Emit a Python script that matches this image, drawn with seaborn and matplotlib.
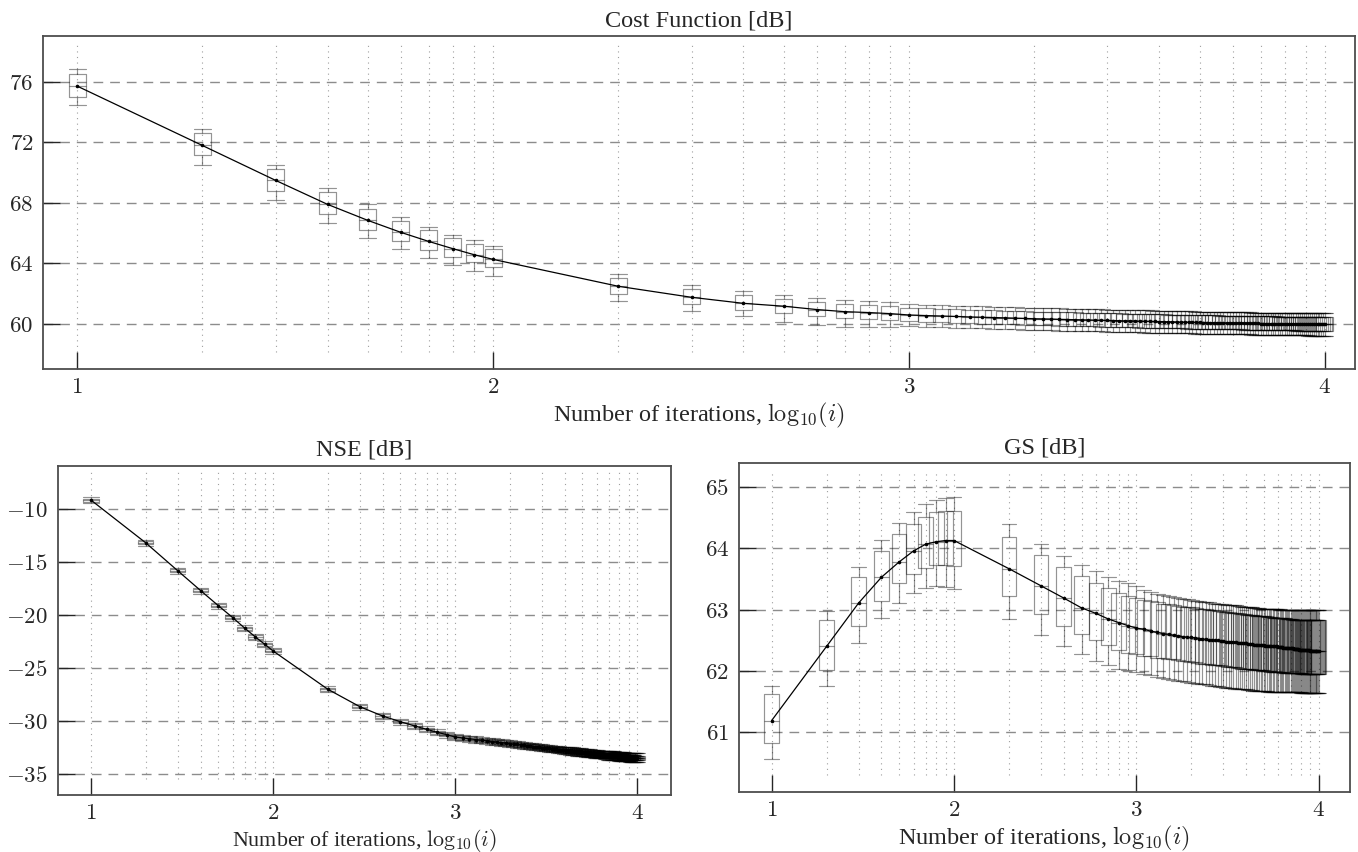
"""
plot.py

Box plots of Cost Function / NSE / GS (dB) against log10 of the number of
iterations, with the median trace drawn on top.
"""

import numpy as np
import pandas as pd
import matplotlib
matplotlib.use("Agg")
import matplotlib.pyplot as plt
from matplotlib.ticker import FuncFormatter
import seaborn as sns

# ---------------------------- DATA -----------------------------------

# iterations at which the runs were sampled: 10..90, then every 100 up to 10000
iterations = list(range(10, 100, 10)) + list(range(100, 10001, 100))

# Cost function [dB]: median, quartiles, whisker ends
cost_med = [
    75.72, 71.79, 69.48, 67.89, 66.83, 66.04, 65.44, 64.96, 64.56,
    64.25, 62.47, 61.74, 61.34, 61.15, 60.93, 60.79, 60.73, 60.66,
    60.57, 60.53, 60.50, 60.47, 60.44, 60.42, 60.40, 60.38, 60.36, 60.34,
    60.32, 60.31, 60.30, 60.28, 60.27, 60.26, 60.25, 60.24, 60.23, 60.22,
    60.21, 60.20, 60.19, 60.18, 60.18, 60.17, 60.16, 60.15, 60.15, 60.14,
    60.13, 60.13, 60.12, 60.12, 60.11, 60.10, 60.10, 60.09, 60.09, 60.08,
    60.08, 60.07, 60.07, 60.06, 60.06, 60.06, 60.05, 60.05, 60.04, 60.04,
    60.04, 60.03, 60.03, 60.03, 60.02, 60.02, 60.02, 60.01, 60.01, 60.01,
    60.00, 60.00, 60.00, 59.99, 59.99, 59.99, 59.99, 59.98, 59.98, 59.98,
    59.98, 59.97, 59.97, 59.97, 59.97, 59.97, 59.96, 59.96, 59.96, 59.96,
    59.96, 59.96, 59.95, 59.95, 59.95, 59.95, 59.95, 59.95, 59.95, 59.95,
    59.95,
]
cost_q1 = [
    74.99, 71.15, 68.77, 67.27, 66.21, 65.44, 64.87, 64.41, 64.08,
    63.72, 61.94, 61.28, 60.91, 60.68, 60.53, 60.37, 60.31, 60.24,
    60.15, 60.11, 60.08, 60.05, 60.02, 60.00, 59.98, 59.96, 59.94, 59.92,
    59.90, 59.89, 59.88, 59.86, 59.85, 59.84, 59.83, 59.82, 59.81, 59.80,
    59.79, 59.78, 59.77, 59.76, 59.76, 59.75, 59.74, 59.73, 59.73, 59.72,
    59.71, 59.71, 59.70, 59.70, 59.69, 59.68, 59.68, 59.67, 59.67, 59.66,
    59.66, 59.65, 59.65, 59.64, 59.64, 59.64, 59.63, 59.63, 59.62, 59.62,
    59.62, 59.61, 59.61, 59.61, 59.60, 59.60, 59.60, 59.59, 59.59, 59.59,
    59.58, 59.58, 59.58, 59.57, 59.57, 59.57, 59.57, 59.56, 59.56, 59.56,
    59.56, 59.55, 59.55, 59.55, 59.55, 59.55, 59.54, 59.54, 59.54, 59.54,
    59.54, 59.54, 59.53, 59.53, 59.53, 59.53, 59.53, 59.53, 59.53, 59.53,
    59.53,
]
cost_q3 = [
    76.49, 72.61, 70.23, 68.68, 67.60, 66.81, 66.19, 65.66, 65.27,
    64.94, 63.02, 62.29, 61.90, 61.63, 61.45, 61.32, 61.23, 61.16,
    61.05, 61.01, 60.98, 60.95, 60.92, 60.90, 60.88, 60.86, 60.84, 60.82,
    60.80, 60.79, 60.78, 60.76, 60.75, 60.74, 60.73, 60.72, 60.71, 60.70,
    60.69, 60.68, 60.67, 60.66, 60.66, 60.65, 60.64, 60.63, 60.63, 60.62,
    60.61, 60.61, 60.60, 60.60, 60.59, 60.58, 60.58, 60.57, 60.57, 60.56,
    60.56, 60.55, 60.55, 60.54, 60.54, 60.54, 60.53, 60.53, 60.52, 60.52,
    60.52, 60.51, 60.51, 60.51, 60.50, 60.50, 60.50, 60.49, 60.49, 60.49,
    60.48, 60.48, 60.48, 60.47, 60.47, 60.47, 60.47, 60.46, 60.46, 60.46,
    60.46, 60.45, 60.45, 60.45, 60.45, 60.45, 60.44, 60.44, 60.44, 60.44,
    60.44, 60.44, 60.43, 60.43, 60.43, 60.43, 60.43, 60.43, 60.43, 60.43,
    60.43,
]
cost_lo = [
    74.50, 70.53, 68.18, 66.68, 65.66, 64.94, 64.34, 63.85, 63.50,
    63.17, 61.47, 60.81, 60.48, 60.13, 59.91, 59.80, 59.78, 59.80,
    59.83, 59.79, 59.76, 59.73, 59.70, 59.68, 59.66, 59.64, 59.62, 59.60,
    59.58, 59.57, 59.56, 59.54, 59.53, 59.52, 59.51, 59.50, 59.49, 59.48,
    59.47, 59.46, 59.45, 59.44, 59.44, 59.43, 59.42, 59.41, 59.41, 59.40,
    59.39, 59.39, 59.38, 59.38, 59.37, 59.36, 59.36, 59.35, 59.35, 59.34,
    59.34, 59.33, 59.33, 59.32, 59.32, 59.32, 59.31, 59.31, 59.30, 59.30,
    59.30, 59.29, 59.29, 59.29, 59.28, 59.28, 59.28, 59.27, 59.27, 59.27,
    59.26, 59.26, 59.26, 59.25, 59.25, 59.25, 59.25, 59.24, 59.24, 59.24,
    59.24, 59.23, 59.23, 59.23, 59.23, 59.23, 59.22, 59.22, 59.22, 59.22,
    59.22, 59.22, 59.21, 59.21, 59.21, 59.21, 59.21, 59.21, 59.21, 59.21,
    59.21,
]
cost_hi = [
    76.86, 72.91, 70.53, 68.99, 67.89, 67.05, 66.41, 65.88, 65.51,
    65.11, 63.29, 62.53, 62.14, 61.90, 61.72, 61.59, 61.47, 61.40,
    61.29, 61.25, 61.22, 61.19, 61.16, 61.14, 61.12, 61.10, 61.08, 61.06,
    61.04, 61.03, 61.02, 61.00, 60.99, 60.98, 60.97, 60.96, 60.95, 60.94,
    60.93, 60.92, 60.91, 60.90, 60.90, 60.89, 60.88, 60.87, 60.87, 60.86,
    60.85, 60.85, 60.84, 60.84, 60.83, 60.82, 60.82, 60.81, 60.81, 60.80,
    60.80, 60.79, 60.79, 60.78, 60.78, 60.78, 60.77, 60.77, 60.76, 60.76,
    60.76, 60.75, 60.75, 60.75, 60.74, 60.74, 60.74, 60.73, 60.73, 60.73,
    60.72, 60.72, 60.72, 60.71, 60.71, 60.71, 60.71, 60.70, 60.70, 60.70,
    60.70, 60.69, 60.69, 60.69, 60.69, 60.69, 60.68, 60.68, 60.68, 60.68,
    60.68, 60.68, 60.67, 60.67, 60.67, 60.67, 60.67, 60.67, 60.67, 60.67,
    60.67,
]

# NSE [dB]
nse_med = [
    -9.15, -13.19, -15.83, -17.69, -19.11, -20.24, -21.25, -22.07, -22.76,
    -23.39, -27.01, -28.66, -29.54, -30.07, -30.48, -30.80, -31.08, -31.30,
    -31.52, -31.61, -31.69, -31.76, -31.83, -31.89, -31.95, -32.00, -32.05, -32.10,
    -32.15, -32.19, -32.23, -32.27, -32.31, -32.35, -32.38, -32.42, -32.45, -32.48,
    -32.52, -32.55, -32.58, -32.60, -32.63, -32.66, -32.68, -32.71, -32.73, -32.76,
    -32.78, -32.80, -32.82, -32.84, -32.86, -32.88, -32.90, -32.92, -32.94, -32.95,
    -32.97, -32.99, -33.00, -33.02, -33.04, -33.05, -33.07, -33.08, -33.10, -33.11,
    -33.12, -33.14, -33.15, -33.16, -33.18, -33.19, -33.20, -33.21, -33.23, -33.24,
    -33.25, -33.26, -33.27, -33.28, -33.29, -33.30, -33.31, -33.32, -33.33, -33.34,
    -33.35, -33.36, -33.37, -33.37, -33.38, -33.39, -33.40, -33.40, -33.41, -33.42,
    -33.43, -33.43, -33.44, -33.45, -33.45, -33.46, -33.46, -33.47, -33.47, -33.48,
    -33.48,
]
nse_q1 = [
    -9.30, -13.34, -15.98, -17.84, -19.26, -20.39, -21.40, -22.22, -22.91,
    -23.54, -27.16, -28.81, -29.69, -30.22, -30.63, -30.95, -31.23, -31.45,
    -31.67, -31.76, -31.84, -31.91, -31.98, -32.04, -32.10, -32.15, -32.20, -32.25,
    -32.30, -32.34, -32.38, -32.42, -32.46, -32.50, -32.53, -32.57, -32.60, -32.63,
    -32.67, -32.70, -32.73, -32.75, -32.78, -32.81, -32.83, -32.86, -32.88, -32.91,
    -32.95, -32.97, -32.99, -33.01, -33.03, -33.05, -33.07, -33.09, -33.11, -33.12,
    -33.14, -33.16, -33.17, -33.19, -33.21, -33.22, -33.24, -33.25, -33.27, -33.28,
    -33.29, -33.31, -33.32, -33.33, -33.35, -33.36, -33.37, -33.38, -33.40, -33.41,
    -33.45, -33.46, -33.47, -33.48, -33.49, -33.50, -33.51, -33.52, -33.53, -33.54,
    -33.55, -33.56, -33.57, -33.57, -33.58, -33.59, -33.60, -33.60, -33.61, -33.62,
    -33.63, -33.63, -33.64, -33.65, -33.65, -33.66, -33.66, -33.67, -33.67, -33.68,
    -33.68,
]
nse_q3 = [
    -9.00, -13.04, -15.68, -17.54, -18.96, -20.09, -21.10, -21.92, -22.61,
    -23.24, -26.86, -28.51, -29.39, -29.92, -30.33, -30.65, -30.93, -31.15,
    -31.37, -31.46, -31.54, -31.61, -31.68, -31.74, -31.80, -31.85, -31.90, -31.95,
    -32.00, -32.04, -32.08, -32.12, -32.16, -32.20, -32.23, -32.27, -32.30, -32.33,
    -32.37, -32.40, -32.43, -32.45, -32.48, -32.51, -32.53, -32.56, -32.58, -32.61,
    -32.61, -32.63, -32.65, -32.67, -32.69, -32.71, -32.73, -32.75, -32.77, -32.78,
    -32.80, -32.82, -32.83, -32.85, -32.87, -32.88, -32.90, -32.91, -32.93, -32.94,
    -32.95, -32.97, -32.98, -32.99, -33.01, -33.02, -33.03, -33.04, -33.06, -33.07,
    -33.05, -33.06, -33.07, -33.08, -33.09, -33.10, -33.11, -33.12, -33.13, -33.14,
    -33.15, -33.16, -33.17, -33.17, -33.18, -33.19, -33.20, -33.20, -33.21, -33.22,
    -33.23, -33.23, -33.24, -33.25, -33.25, -33.26, -33.26, -33.27, -33.27, -33.28,
    -33.28,
]
nse_lo = [
    -9.43, -13.47, -16.11, -17.97, -19.39, -20.52, -21.53, -22.35, -23.04,
    -23.67, -27.29, -28.94, -29.82, -30.35, -30.76, -31.08, -31.36, -31.58,
    -31.82, -31.91, -31.99, -32.06, -32.13, -32.19, -32.25, -32.30, -32.35, -32.40,
    -32.45, -32.49, -32.53, -32.57, -32.61, -32.65, -32.68, -32.72, -32.75, -32.78,
    -32.82, -32.85, -32.88, -32.90, -32.93, -32.96, -32.98, -33.01, -33.03, -33.06,
    -33.13, -33.15, -33.17, -33.19, -33.21, -33.23, -33.25, -33.27, -33.29, -33.30,
    -33.32, -33.34, -33.35, -33.37, -33.39, -33.40, -33.42, -33.43, -33.45, -33.46,
    -33.47, -33.49, -33.50, -33.51, -33.53, -33.54, -33.55, -33.56, -33.58, -33.59,
    -33.65, -33.66, -33.67, -33.68, -33.69, -33.70, -33.71, -33.72, -33.73, -33.74,
    -33.75, -33.76, -33.77, -33.77, -33.78, -33.79, -33.80, -33.80, -33.81, -33.82,
    -33.83, -33.83, -33.84, -33.85, -33.85, -33.86, -33.86, -33.87, -33.87, -33.88,
    -33.88,
]
nse_hi = [
    -8.87, -12.91, -15.55, -17.41, -18.83, -19.96, -20.97, -21.79, -22.48,
    -23.11, -26.73, -28.38, -29.26, -29.79, -30.20, -30.52, -30.80, -31.02,
    -31.22, -31.31, -31.39, -31.46, -31.53, -31.59, -31.65, -31.70, -31.75, -31.80,
    -31.85, -31.89, -31.93, -31.97, -32.01, -32.05, -32.08, -32.12, -32.15, -32.18,
    -32.22, -32.25, -32.28, -32.30, -32.33, -32.36, -32.38, -32.41, -32.43, -32.46,
    -32.43, -32.45, -32.47, -32.49, -32.51, -32.53, -32.55, -32.57, -32.59, -32.60,
    -32.62, -32.64, -32.65, -32.67, -32.69, -32.70, -32.72, -32.73, -32.75, -32.76,
    -32.77, -32.79, -32.80, -32.81, -32.83, -32.84, -32.85, -32.86, -32.88, -32.89,
    -32.85, -32.86, -32.87, -32.88, -32.89, -32.90, -32.91, -32.92, -32.93, -32.94,
    -32.95, -32.96, -32.97, -32.97, -32.98, -32.99, -33.00, -33.00, -33.01, -33.02,
    -33.03, -33.03, -33.04, -33.05, -33.05, -33.06, -33.06, -33.07, -33.07, -33.08,
    -33.08,
]

# GS [dB]
gs_med = [
    61.19, 62.40, 63.11, 63.53, 63.78, 63.96, 64.07, 64.11, 64.13,
    64.13, 63.67, 63.39, 63.19, 63.03, 62.94, 62.85, 62.79, 62.74,
    62.70, 62.68, 62.65, 62.63, 62.61, 62.60, 62.58, 62.57, 62.56, 62.55,
    62.55, 62.54, 62.53, 62.52, 62.52, 62.51, 62.51, 62.50, 62.50, 62.49,
    62.49, 62.48, 62.48, 62.47, 62.47, 62.47, 62.46, 62.46, 62.45, 62.45,
    62.45, 62.44, 62.44, 62.44, 62.43, 62.43, 62.43, 62.42, 62.42, 62.42,
    62.42, 62.41, 62.41, 62.41, 62.41, 62.40, 62.40, 62.40, 62.40, 62.40,
    62.39, 62.39, 62.39, 62.39, 62.38, 62.38, 62.38, 62.38, 62.37, 62.37,
    62.37, 62.37, 62.37, 62.36, 62.36, 62.36, 62.36, 62.36, 62.35, 62.35,
    62.35, 62.35, 62.35, 62.34, 62.34, 62.34, 62.34, 62.34, 62.34, 62.34,
    62.33, 62.33, 62.33, 62.33, 62.33, 62.33, 62.33, 62.33, 62.33, 62.33,
    62.33,
]
gs_q1 = [
    60.82, 62.02, 62.73, 63.15, 63.43, 63.59, 63.68, 63.73, 63.73,
    63.71, 63.22, 62.93, 62.74, 62.61, 62.51, 62.42, 62.35, 62.30,
    62.27, 62.25, 62.24, 62.22, 62.21, 62.20, 62.19, 62.18, 62.17, 62.16,
    62.15, 62.14, 62.13, 62.12, 62.12, 62.11, 62.10, 62.10, 62.09, 62.09,
    62.08, 62.08, 62.07, 62.07, 62.06, 62.06, 62.05, 62.05, 62.04, 62.04,
    62.04, 62.03, 62.03, 62.03, 62.02, 62.02, 62.02, 62.01, 62.01, 62.01,
    62.01, 62.00, 62.00, 62.00, 62.00, 61.99, 61.99, 61.99, 61.99, 61.99,
    61.98, 61.98, 61.98, 61.98, 61.98, 61.97, 61.97, 61.97, 61.97, 61.97,
    61.97, 61.96, 61.96, 61.96, 61.96, 61.96, 61.96, 61.96, 61.96, 61.96,
    61.96, 61.95, 61.95, 61.95, 61.95, 61.95, 61.95, 61.95, 61.95, 61.95,
    61.95, 61.95, 61.95, 61.95, 61.95, 61.95, 61.95, 61.95, 61.95, 61.95,
    61.95,
]
gs_q3 = [
    61.63, 62.84, 63.54, 63.96, 64.23, 64.40, 64.52, 64.59, 64.61,
    64.61, 64.19, 63.89, 63.69, 63.55, 63.44, 63.35, 63.28, 63.22,
    63.19, 63.16, 63.14, 63.12, 63.10, 63.09, 63.07, 63.06, 63.05, 63.05,
    63.04, 63.03, 63.02, 63.01, 63.01, 63.00, 62.99, 62.99, 62.98, 62.98,
    62.97, 62.96, 62.96, 62.95, 62.95, 62.94, 62.94, 62.93, 62.93, 62.93,
    62.92, 62.92, 62.91, 62.91, 62.91, 62.90, 62.90, 62.90, 62.89, 62.89,
    62.89, 62.89, 62.88, 62.88, 62.88, 62.88, 62.87, 62.87, 62.87, 62.87,
    62.87, 62.86, 62.86, 62.86, 62.86, 62.86, 62.85, 62.85, 62.85, 62.85,
    62.85, 62.85, 62.84, 62.84, 62.84, 62.84, 62.84, 62.84, 62.84, 62.84,
    62.84, 62.84, 62.83, 62.83, 62.83, 62.83, 62.83, 62.83, 62.83, 62.83,
    62.83, 62.83, 62.83, 62.83, 62.83, 62.83, 62.83, 62.83, 62.83, 62.83,
    62.83,
]
gs_lo = [
    60.56, 61.76, 62.46, 62.87, 63.11, 63.27, 63.35, 63.39, 63.37,
    63.34, 62.85, 62.58, 62.41, 62.27, 62.17, 62.09, 62.04, 62.01,
    61.98, 61.95, 61.93, 61.91, 61.89, 61.87, 61.86, 61.84, 61.83, 61.82,
    61.81, 61.80, 61.79, 61.78, 61.78, 61.77, 61.76, 61.76, 61.75, 61.74,
    61.74, 61.73, 61.73, 61.72, 61.72, 61.71, 61.71, 61.71, 61.70, 61.70,
    61.70, 61.69, 61.69, 61.69, 61.68, 61.68, 61.68, 61.68, 61.67, 61.67,
    61.67, 61.67, 61.67, 61.66, 61.66, 61.66, 61.66, 61.66, 61.66, 61.66,
    61.66, 61.65, 61.65, 61.65, 61.65, 61.65, 61.65, 61.65, 61.65, 61.65,
    61.65, 61.65, 61.65, 61.65, 61.65, 61.65, 61.65, 61.65, 61.65, 61.65,
    61.64, 61.64, 61.64, 61.64, 61.64, 61.64, 61.64, 61.64, 61.64, 61.64,
    61.64, 61.64, 61.64, 61.64, 61.64, 61.64, 61.64, 61.64, 61.64, 61.64,
    61.64,
]
gs_hi = [
    61.76, 62.98, 63.70, 64.14, 64.41, 64.60, 64.73, 64.79, 64.83,
    64.84, 64.40, 64.07, 63.87, 63.73, 63.63, 63.54, 63.47, 63.43,
    63.38, 63.33, 63.29, 63.26, 63.24, 63.22, 63.20, 63.19, 63.18, 63.17,
    63.16, 63.15, 63.14, 63.13, 63.12, 63.12, 63.11, 63.10, 63.10, 63.09,
    63.09, 63.08, 63.08, 63.07, 63.07, 63.07, 63.06, 63.06, 63.05, 63.05,
    63.05, 63.04, 63.04, 63.04, 63.03, 63.03, 63.03, 63.03, 63.02, 63.02,
    63.02, 63.02, 63.02, 63.01, 63.01, 63.01, 63.01, 63.01, 63.01, 63.01,
    63.01, 63.01, 63.00, 63.00, 63.00, 63.00, 63.00, 63.00, 63.00, 63.00,
    63.00, 63.00, 63.00, 63.00, 63.00, 63.00, 63.00, 63.00, 63.00, 63.00,
    62.99, 62.99, 62.99, 62.99, 62.99, 62.99, 62.99, 62.99, 62.99, 62.99,
    62.99, 62.99, 62.99, 62.99, 62.99, 62.99, 62.99, 62.99, 62.99, 62.99,
    62.99,
]

# ---------------------------- STYLE ----------------------------------

sns.set_theme(style="white")
plt.rcParams["font.family"] = ["Liberation Serif", "DejaVu Serif"]
plt.rcParams["mathtext.fontset"] = "cm"

TITLE_FS = 17.5
TICK_FS = 16.5
BOX_ALPHA = 0.42
BOX_LW = 0.85

xpos = np.log10(np.array(iterations, dtype=float))
native_w = np.diff(np.unique(xpos)).min()

# dotted vertical guides at every k*10^n
guide_x = np.log10([k * 10 ** n for n in (1, 2, 3) for k in range(1, 10)] + [10000])


def box_frame(lo, q1, med, q3, hi):
    # five values per position -> quartiles / whisker ends come out exact
    rows = []
    for x, vals in zip(xpos, zip(lo, q1, med, q3, hi)):
        for v in vals:
            rows.append((x, v))
    return pd.DataFrame(rows, columns=["x", "value"])


def draw_panel(ax, stats, box_w, xlim, ylim, yticks, title, xlabel_fs):
    lo, q1, med, q3, hi = stats
    for s in stats:
        assert len(s) == len(iterations), len(s)

    for y in yticks:
        ax.axhline(y, color="0.55", lw=1.0, ls=(0, (7, 5)), zorder=0.5)
    ax.vlines(guide_x, 0.05, 0.98, transform=ax.get_xaxis_transform(),
              colors="0.62", linestyles=(0, (1, 4)), lw=0.8, zorder=0.5)

    n_before = len(ax.lines)
    sns.boxplot(data=box_frame(lo, q1, med, q3, hi), x="x", y="value",
                native_scale=True, width=box_w / native_w, whis=(0, 100),
                fill=False, color="black", linewidth=BOX_LW, showfliers=False,
                capwidths=box_w, ax=ax)
    for ln in ax.lines[n_before:]:
        ln.set_alpha(BOX_ALPHA)

    sns.lineplot(x=xpos, y=med, color="black", lw=0.9, marker="o",
                 markersize=2.6, markeredgewidth=0, errorbar=None, ax=ax)

    ax.set_xlim(*xlim)
    ax.set_ylim(*ylim)
    ax.set_xticks([1, 2, 3, 4])
    ax.set_yticks(yticks)
    fmt = FuncFormatter(lambda v, p: f"${v:g}$")
    ax.xaxis.set_major_formatter(fmt)
    ax.yaxis.set_major_formatter(fmt)
    ax.tick_params(direction="in", length=12, width=1.0, color="0.15",
                   labelsize=TICK_FS, bottom=True, left=True, top=False, right=False)
    ax.tick_params(axis="x", pad=6)
    ax.tick_params(axis="y", pad=7)
    for sp in ax.spines.values():
        sp.set_color("0.3")
        sp.set_linewidth(1.3)

    ax.set_title(title, fontsize=TITLE_FS, pad=7)
    ax.set_xlabel(r"Number of iterations, $\mathrm{log}_{10}(i)$",
                  fontsize=xlabel_fs, labelpad=2)
    ax.set_ylabel("")


def main():
    fig = plt.figure(figsize=(13.58, 8.52), dpi=100)

    ax_cost = fig.add_axes([0.0317, 0.567, 0.966, 0.391])
    ax_nse = fig.add_axes([0.0425, 0.0669, 0.4516, 0.3865])
    ax_gs = fig.add_axes([0.544, 0.0708, 0.450, 0.3854])

    draw_panel(ax_cost, (cost_lo, cost_q1, cost_med, cost_q3, cost_hi), 0.041,
               (0.918, 4.072), (57.0, 79.05), [60, 64, 68, 72, 76],
               "Cost Function [dB]", TITLE_FS)
    draw_panel(ax_nse, (nse_lo, nse_q1, nse_med, nse_q3, nse_hi), 0.083,
               (0.817, 4.187), (-37.0, -5.9), [-35, -30, -25, -20, -15, -10],
               "NSE [dB]", 15.8)
    draw_panel(ax_gs, (gs_lo, gs_q1, gs_med, gs_q3, gs_hi), 0.081,
               (0.82, 4.17), (60.03, 65.39), [61, 62, 63, 64, 65],
               "GS [dB]", TITLE_FS)

    fig.savefig("out.png", dpi=100)
    plt.close(fig)


if __name__ == "__main__":
    main()
